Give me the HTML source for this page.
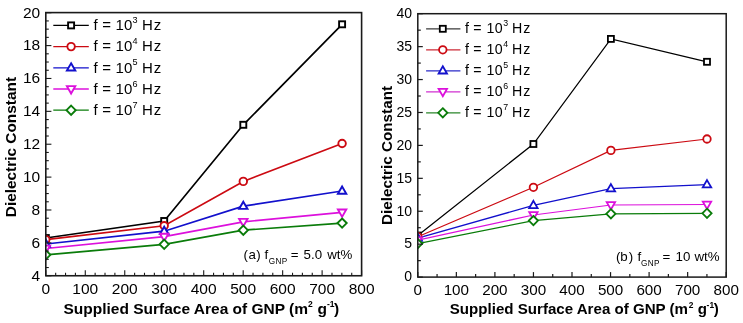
<!DOCTYPE html>
<html><head><meta charset="utf-8"><style>
html,body{margin:0;padding:0;background:#fff;}
svg{display:block;filter:blur(0.3px);}
text{font-family:"Liberation Sans",sans-serif;fill:#000;}
</style></head><body>
<svg width="743" height="323" viewBox="0 0 743 323">
<rect width="743" height="323" fill="#fff"/>
<clipPath id="cl"><rect x="45.8" y="12.6" width="315.8" height="263.15"/></clipPath>
<g clip-path="url(#cl)">
<polyline points="45.80,238.00 164.20,221.00 243.30,124.80 342.10,24.30" fill="none" stroke="#000000" stroke-width="1.7"/>
<polyline points="45.80,239.60 164.20,225.80 243.30,181.40 342.10,143.50" fill="none" stroke="#cc0a12" stroke-width="1.7"/>
<polyline points="45.80,244.00 164.20,231.20 243.30,206.20 342.10,191.00" fill="none" stroke="#1210cc" stroke-width="1.7"/>
<polyline points="45.80,248.50 164.20,236.60 243.30,221.80 342.10,212.40" fill="none" stroke="#dc10dc" stroke-width="1.7"/>
<polyline points="45.80,254.80 164.20,244.30 243.30,230.20 342.10,223.10" fill="none" stroke="#0a7c0a" stroke-width="1.7"/>
<rect x="42.80" y="235.00" width="6.00" height="6.00" fill="#fff" stroke="#000000" stroke-width="1.9"/>
<rect x="161.20" y="218.00" width="6.00" height="6.00" fill="#fff" stroke="#000000" stroke-width="1.9"/>
<rect x="240.30" y="121.80" width="6.00" height="6.00" fill="#fff" stroke="#000000" stroke-width="1.9"/>
<rect x="339.10" y="21.30" width="6.00" height="6.00" fill="#fff" stroke="#000000" stroke-width="1.9"/>
<circle cx="45.80" cy="239.60" r="3.75" fill="#fff" stroke="#cc0a12" stroke-width="1.9"/>
<circle cx="164.20" cy="225.80" r="3.75" fill="#fff" stroke="#cc0a12" stroke-width="1.9"/>
<circle cx="243.30" cy="181.40" r="3.75" fill="#fff" stroke="#cc0a12" stroke-width="1.9"/>
<circle cx="342.10" cy="143.50" r="3.75" fill="#fff" stroke="#cc0a12" stroke-width="1.9"/>
<path d="M45.80,239.50 L50.00,246.70 L41.60,246.70 Z" fill="#fff" stroke="#1210cc" stroke-width="1.9"/>
<path d="M164.20,226.70 L168.40,233.90 L160.00,233.90 Z" fill="#fff" stroke="#1210cc" stroke-width="1.9"/>
<path d="M243.30,201.70 L247.50,208.90 L239.10,208.90 Z" fill="#fff" stroke="#1210cc" stroke-width="1.9"/>
<path d="M342.10,186.50 L346.30,193.70 L337.90,193.70 Z" fill="#fff" stroke="#1210cc" stroke-width="1.9"/>
<path d="M45.80,253.00 L50.00,245.60 L41.60,245.60 Z" fill="#fff" stroke="#dc10dc" stroke-width="1.9"/>
<path d="M164.20,241.10 L168.40,233.70 L160.00,233.70 Z" fill="#fff" stroke="#dc10dc" stroke-width="1.9"/>
<path d="M243.30,226.30 L247.50,218.90 L239.10,218.90 Z" fill="#fff" stroke="#dc10dc" stroke-width="1.9"/>
<path d="M342.10,216.90 L346.30,209.50 L337.90,209.50 Z" fill="#fff" stroke="#dc10dc" stroke-width="1.9"/>
<path d="M45.80,250.20 L50.40,254.80 L45.80,259.40 L41.20,254.80 Z" fill="#fff" stroke="#0a7c0a" stroke-width="1.9"/>
<path d="M164.20,239.70 L168.80,244.30 L164.20,248.90 L159.60,244.30 Z" fill="#fff" stroke="#0a7c0a" stroke-width="1.9"/>
<path d="M243.30,225.60 L247.90,230.20 L243.30,234.80 L238.70,230.20 Z" fill="#fff" stroke="#0a7c0a" stroke-width="1.9"/>
<path d="M342.10,218.50 L346.70,223.10 L342.10,227.70 L337.50,223.10 Z" fill="#fff" stroke="#0a7c0a" stroke-width="1.9"/>
</g>
<line x1="53.3" y1="25.40" x2="88.8" y2="25.40" stroke="#000000" stroke-width="1.3"/>
<rect x="68.10" y="22.40" width="6.00" height="6.00" fill="#fff" stroke="#000000" stroke-width="1.9"/>
<text x="93.40" y="30.20" font-size="15">f</text>
<text x="102.20" y="30.20" font-size="15">=</text>
<text x="115.40" y="30.20" font-size="15" letter-spacing="0.3">10</text>
<text x="132.60" y="22.90" font-size="9.1">3</text>
<text x="142.00" y="30.20" font-size="15" letter-spacing="0.8">Hz</text>
<line x1="53.3" y1="46.60" x2="88.8" y2="46.60" stroke="#cc0a12" stroke-width="1.3"/>
<circle cx="71.10" cy="46.60" r="3.75" fill="#fff" stroke="#cc0a12" stroke-width="1.9"/>
<text x="93.40" y="51.40" font-size="15">f</text>
<text x="102.20" y="51.40" font-size="15">=</text>
<text x="115.40" y="51.40" font-size="15" letter-spacing="0.3">10</text>
<text x="132.60" y="44.10" font-size="9.1">4</text>
<text x="142.00" y="51.40" font-size="15" letter-spacing="0.8">Hz</text>
<line x1="53.3" y1="67.80" x2="88.8" y2="67.80" stroke="#1210cc" stroke-width="1.3"/>
<path d="M71.10,63.30 L75.30,70.50 L66.90,70.50 Z" fill="#fff" stroke="#1210cc" stroke-width="1.9"/>
<text x="93.40" y="72.60" font-size="15">f</text>
<text x="102.20" y="72.60" font-size="15">=</text>
<text x="115.40" y="72.60" font-size="15" letter-spacing="0.3">10</text>
<text x="132.60" y="65.30" font-size="9.1">5</text>
<text x="142.00" y="72.60" font-size="15" letter-spacing="0.8">Hz</text>
<line x1="53.3" y1="89.00" x2="88.8" y2="89.00" stroke="#dc10dc" stroke-width="1.3"/>
<path d="M71.10,93.50 L75.30,86.10 L66.90,86.10 Z" fill="#fff" stroke="#dc10dc" stroke-width="1.9"/>
<text x="93.40" y="93.80" font-size="15">f</text>
<text x="102.20" y="93.80" font-size="15">=</text>
<text x="115.40" y="93.80" font-size="15" letter-spacing="0.3">10</text>
<text x="132.60" y="86.50" font-size="9.1">6</text>
<text x="142.00" y="93.80" font-size="15" letter-spacing="0.8">Hz</text>
<line x1="53.3" y1="110.20" x2="88.8" y2="110.20" stroke="#0a7c0a" stroke-width="1.3"/>
<path d="M71.10,105.60 L75.70,110.20 L71.10,114.80 L66.50,110.20 Z" fill="#fff" stroke="#0a7c0a" stroke-width="1.9"/>
<text x="93.40" y="115.00" font-size="15">f</text>
<text x="102.20" y="115.00" font-size="15">=</text>
<text x="115.40" y="115.00" font-size="15" letter-spacing="0.3">10</text>
<text x="132.60" y="107.70" font-size="9.1">7</text>
<text x="142.00" y="115.00" font-size="15" letter-spacing="0.8">Hz</text>
<rect x="45.8" y="12.6" width="315.8" height="263.15" fill="none" stroke="#1a1a1a" stroke-width="1.6"/>
<line x1="45.80" y1="275.75" x2="45.80" y2="270.15" stroke="#1a1a1a" stroke-width="1.1"/>
<text x="45.80" y="293.60" font-size="15.5" text-anchor="middle">0</text>
<line x1="55.67" y1="275.75" x2="55.67" y2="272.75" stroke="#1a1a1a" stroke-width="1.1"/>
<line x1="65.54" y1="275.75" x2="65.54" y2="272.75" stroke="#1a1a1a" stroke-width="1.1"/>
<line x1="75.41" y1="275.75" x2="75.41" y2="272.75" stroke="#1a1a1a" stroke-width="1.1"/>
<line x1="85.28" y1="275.75" x2="85.28" y2="270.15" stroke="#1a1a1a" stroke-width="1.1"/>
<text x="85.28" y="293.60" font-size="15.5" text-anchor="middle">100</text>
<line x1="95.14" y1="275.75" x2="95.14" y2="272.75" stroke="#1a1a1a" stroke-width="1.1"/>
<line x1="105.01" y1="275.75" x2="105.01" y2="272.75" stroke="#1a1a1a" stroke-width="1.1"/>
<line x1="114.88" y1="275.75" x2="114.88" y2="272.75" stroke="#1a1a1a" stroke-width="1.1"/>
<line x1="124.75" y1="275.75" x2="124.75" y2="270.15" stroke="#1a1a1a" stroke-width="1.1"/>
<text x="124.75" y="293.60" font-size="15.5" text-anchor="middle">200</text>
<line x1="134.62" y1="275.75" x2="134.62" y2="272.75" stroke="#1a1a1a" stroke-width="1.1"/>
<line x1="144.49" y1="275.75" x2="144.49" y2="272.75" stroke="#1a1a1a" stroke-width="1.1"/>
<line x1="154.36" y1="275.75" x2="154.36" y2="272.75" stroke="#1a1a1a" stroke-width="1.1"/>
<line x1="164.22" y1="275.75" x2="164.22" y2="270.15" stroke="#1a1a1a" stroke-width="1.1"/>
<text x="164.22" y="293.60" font-size="15.5" text-anchor="middle">300</text>
<line x1="174.09" y1="275.75" x2="174.09" y2="272.75" stroke="#1a1a1a" stroke-width="1.1"/>
<line x1="183.96" y1="275.75" x2="183.96" y2="272.75" stroke="#1a1a1a" stroke-width="1.1"/>
<line x1="193.83" y1="275.75" x2="193.83" y2="272.75" stroke="#1a1a1a" stroke-width="1.1"/>
<line x1="203.70" y1="275.75" x2="203.70" y2="270.15" stroke="#1a1a1a" stroke-width="1.1"/>
<text x="203.70" y="293.60" font-size="15.5" text-anchor="middle">400</text>
<line x1="213.57" y1="275.75" x2="213.57" y2="272.75" stroke="#1a1a1a" stroke-width="1.1"/>
<line x1="223.44" y1="275.75" x2="223.44" y2="272.75" stroke="#1a1a1a" stroke-width="1.1"/>
<line x1="233.31" y1="275.75" x2="233.31" y2="272.75" stroke="#1a1a1a" stroke-width="1.1"/>
<line x1="243.18" y1="275.75" x2="243.18" y2="270.15" stroke="#1a1a1a" stroke-width="1.1"/>
<text x="243.18" y="293.60" font-size="15.5" text-anchor="middle">500</text>
<line x1="253.04" y1="275.75" x2="253.04" y2="272.75" stroke="#1a1a1a" stroke-width="1.1"/>
<line x1="262.91" y1="275.75" x2="262.91" y2="272.75" stroke="#1a1a1a" stroke-width="1.1"/>
<line x1="272.78" y1="275.75" x2="272.78" y2="272.75" stroke="#1a1a1a" stroke-width="1.1"/>
<line x1="282.65" y1="275.75" x2="282.65" y2="270.15" stroke="#1a1a1a" stroke-width="1.1"/>
<text x="282.65" y="293.60" font-size="15.5" text-anchor="middle">600</text>
<line x1="292.52" y1="275.75" x2="292.52" y2="272.75" stroke="#1a1a1a" stroke-width="1.1"/>
<line x1="302.39" y1="275.75" x2="302.39" y2="272.75" stroke="#1a1a1a" stroke-width="1.1"/>
<line x1="312.26" y1="275.75" x2="312.26" y2="272.75" stroke="#1a1a1a" stroke-width="1.1"/>
<line x1="322.12" y1="275.75" x2="322.12" y2="270.15" stroke="#1a1a1a" stroke-width="1.1"/>
<text x="322.12" y="293.60" font-size="15.5" text-anchor="middle">700</text>
<line x1="331.99" y1="275.75" x2="331.99" y2="272.75" stroke="#1a1a1a" stroke-width="1.1"/>
<line x1="341.86" y1="275.75" x2="341.86" y2="272.75" stroke="#1a1a1a" stroke-width="1.1"/>
<line x1="351.73" y1="275.75" x2="351.73" y2="272.75" stroke="#1a1a1a" stroke-width="1.1"/>
<line x1="361.60" y1="275.75" x2="361.60" y2="270.15" stroke="#1a1a1a" stroke-width="1.1"/>
<text x="361.60" y="293.60" font-size="15.5" text-anchor="middle">800</text>
<line x1="45.8" y1="275.75" x2="51.4" y2="275.75" stroke="#1a1a1a" stroke-width="1.1"/>
<text x="40.20" y="280.55" font-size="15.5" text-anchor="end">4</text>
<line x1="45.8" y1="267.53" x2="48.8" y2="267.53" stroke="#1a1a1a" stroke-width="1.1"/>
<line x1="45.8" y1="259.31" x2="48.8" y2="259.31" stroke="#1a1a1a" stroke-width="1.1"/>
<line x1="45.8" y1="251.09" x2="48.8" y2="251.09" stroke="#1a1a1a" stroke-width="1.1"/>
<line x1="45.8" y1="242.87" x2="51.4" y2="242.87" stroke="#1a1a1a" stroke-width="1.1"/>
<text x="40.20" y="247.67" font-size="15.5" text-anchor="end">6</text>
<line x1="45.8" y1="234.65" x2="48.8" y2="234.65" stroke="#1a1a1a" stroke-width="1.1"/>
<line x1="45.8" y1="226.43" x2="48.8" y2="226.43" stroke="#1a1a1a" stroke-width="1.1"/>
<line x1="45.8" y1="218.21" x2="48.8" y2="218.21" stroke="#1a1a1a" stroke-width="1.1"/>
<line x1="45.8" y1="209.99" x2="51.4" y2="209.99" stroke="#1a1a1a" stroke-width="1.1"/>
<text x="40.20" y="214.79" font-size="15.5" text-anchor="end">8</text>
<line x1="45.8" y1="201.77" x2="48.8" y2="201.77" stroke="#1a1a1a" stroke-width="1.1"/>
<line x1="45.8" y1="193.55" x2="48.8" y2="193.55" stroke="#1a1a1a" stroke-width="1.1"/>
<line x1="45.8" y1="185.33" x2="48.8" y2="185.33" stroke="#1a1a1a" stroke-width="1.1"/>
<line x1="45.8" y1="177.11" x2="51.4" y2="177.11" stroke="#1a1a1a" stroke-width="1.1"/>
<text x="40.20" y="181.91" font-size="15.5" text-anchor="end">10</text>
<line x1="45.8" y1="168.89" x2="48.8" y2="168.89" stroke="#1a1a1a" stroke-width="1.1"/>
<line x1="45.8" y1="160.67" x2="48.8" y2="160.67" stroke="#1a1a1a" stroke-width="1.1"/>
<line x1="45.8" y1="152.45" x2="48.8" y2="152.45" stroke="#1a1a1a" stroke-width="1.1"/>
<line x1="45.8" y1="144.23" x2="51.4" y2="144.23" stroke="#1a1a1a" stroke-width="1.1"/>
<text x="40.20" y="149.03" font-size="15.5" text-anchor="end">12</text>
<line x1="45.8" y1="136.01" x2="48.8" y2="136.01" stroke="#1a1a1a" stroke-width="1.1"/>
<line x1="45.8" y1="127.79" x2="48.8" y2="127.79" stroke="#1a1a1a" stroke-width="1.1"/>
<line x1="45.8" y1="119.57" x2="48.8" y2="119.57" stroke="#1a1a1a" stroke-width="1.1"/>
<line x1="45.8" y1="111.35" x2="51.4" y2="111.35" stroke="#1a1a1a" stroke-width="1.1"/>
<text x="40.20" y="116.15" font-size="15.5" text-anchor="end">14</text>
<line x1="45.8" y1="103.13" x2="48.8" y2="103.13" stroke="#1a1a1a" stroke-width="1.1"/>
<line x1="45.8" y1="94.91" x2="48.8" y2="94.91" stroke="#1a1a1a" stroke-width="1.1"/>
<line x1="45.8" y1="86.69" x2="48.8" y2="86.69" stroke="#1a1a1a" stroke-width="1.1"/>
<line x1="45.8" y1="78.47" x2="51.4" y2="78.47" stroke="#1a1a1a" stroke-width="1.1"/>
<text x="40.20" y="83.27" font-size="15.5" text-anchor="end">16</text>
<line x1="45.8" y1="70.25" x2="48.8" y2="70.25" stroke="#1a1a1a" stroke-width="1.1"/>
<line x1="45.8" y1="62.03" x2="48.8" y2="62.03" stroke="#1a1a1a" stroke-width="1.1"/>
<line x1="45.8" y1="53.81" x2="48.8" y2="53.81" stroke="#1a1a1a" stroke-width="1.1"/>
<line x1="45.8" y1="45.59" x2="51.4" y2="45.59" stroke="#1a1a1a" stroke-width="1.1"/>
<text x="40.20" y="50.39" font-size="15.5" text-anchor="end">18</text>
<line x1="45.8" y1="37.37" x2="48.8" y2="37.37" stroke="#1a1a1a" stroke-width="1.1"/>
<line x1="45.8" y1="29.15" x2="48.8" y2="29.15" stroke="#1a1a1a" stroke-width="1.1"/>
<line x1="45.8" y1="20.93" x2="48.8" y2="20.93" stroke="#1a1a1a" stroke-width="1.1"/>
<line x1="45.8" y1="12.71" x2="51.4" y2="12.71" stroke="#1a1a1a" stroke-width="1.1"/>
<text x="40.20" y="17.51" font-size="15.5" text-anchor="end">20</text>
<text x="63.45" y="313.80" font-size="15.5" font-weight="bold">Supplied Surface Area of GNP (m</text>
<text x="308.00" y="307.20" font-size="8.5" font-weight="bold">2</text>
<text x="317.40" y="313.80" font-size="15.5" font-weight="bold">g</text>
<text x="327.00" y="307.20" font-size="8.5" font-weight="bold">-1</text>
<text x="334.00" y="313.80" font-size="15.5" font-weight="bold">)</text>
<text transform="translate(16.0,147.1) rotate(-90)" font-size="15.4" font-weight="bold" text-anchor="middle">Dielectric Constant</text>
<text x="243.50" y="258.90" font-size="13.3">(</text>
<text x="248.40" y="258.90" font-size="13.3">a</text>
<text x="256.20" y="258.90" font-size="13.3">)</text>
<text x="264.50" y="258.90" font-size="13.3">f</text>
<text x="268.70" y="264.30" font-size="8.2" letter-spacing="0.35">GNP</text>
<text x="290.70" y="258.90" font-size="13.3">=</text>
<text x="303.60" y="258.90" font-size="13.3">5.0</text>
<text x="327.20" y="258.90" font-size="13.3">wt%</text>
<clipPath id="cr"><rect x="417.8" y="13.7" width="308.40000000000003" height="263.40000000000003"/></clipPath>
<g clip-path="url(#cr)">
<polyline points="417.80,235.50 533.40,144.00 610.90,38.90 707.00,61.80" fill="none" stroke="#000000" stroke-width="1.25"/>
<polyline points="417.80,236.70 533.40,187.30 610.90,150.40 707.00,139.00" fill="none" stroke="#cc0a12" stroke-width="1.25"/>
<polyline points="417.80,238.20 533.40,205.40 610.90,188.60 707.00,184.60" fill="none" stroke="#1210cc" stroke-width="1.25"/>
<polyline points="417.80,240.20 533.40,215.00 610.90,205.00 707.00,204.50" fill="none" stroke="#dc10dc" stroke-width="1.25"/>
<polyline points="417.80,243.60 533.40,220.60 610.90,213.80 707.00,213.30" fill="none" stroke="#0a7c0a" stroke-width="1.25"/>
<rect x="414.80" y="232.50" width="6.00" height="6.00" fill="#fff" stroke="#000000" stroke-width="1.8"/>
<rect x="530.40" y="141.00" width="6.00" height="6.00" fill="#fff" stroke="#000000" stroke-width="1.8"/>
<rect x="607.90" y="35.90" width="6.00" height="6.00" fill="#fff" stroke="#000000" stroke-width="1.8"/>
<rect x="704.00" y="58.80" width="6.00" height="6.00" fill="#fff" stroke="#000000" stroke-width="1.8"/>
<circle cx="417.80" cy="236.70" r="3.75" fill="#fff" stroke="#cc0a12" stroke-width="1.8"/>
<circle cx="533.40" cy="187.30" r="3.75" fill="#fff" stroke="#cc0a12" stroke-width="1.8"/>
<circle cx="610.90" cy="150.40" r="3.75" fill="#fff" stroke="#cc0a12" stroke-width="1.8"/>
<circle cx="707.00" cy="139.00" r="3.75" fill="#fff" stroke="#cc0a12" stroke-width="1.8"/>
<path d="M417.80,233.70 L422.00,240.90 L413.60,240.90 Z" fill="#fff" stroke="#1210cc" stroke-width="1.8"/>
<path d="M533.40,200.90 L537.60,208.10 L529.20,208.10 Z" fill="#fff" stroke="#1210cc" stroke-width="1.8"/>
<path d="M610.90,184.10 L615.10,191.30 L606.70,191.30 Z" fill="#fff" stroke="#1210cc" stroke-width="1.8"/>
<path d="M707.00,180.10 L711.20,187.30 L702.80,187.30 Z" fill="#fff" stroke="#1210cc" stroke-width="1.8"/>
<path d="M417.80,244.70 L422.00,237.30 L413.60,237.30 Z" fill="#fff" stroke="#dc10dc" stroke-width="1.8"/>
<path d="M533.40,219.50 L537.60,212.10 L529.20,212.10 Z" fill="#fff" stroke="#dc10dc" stroke-width="1.8"/>
<path d="M610.90,209.50 L615.10,202.10 L606.70,202.10 Z" fill="#fff" stroke="#dc10dc" stroke-width="1.8"/>
<path d="M707.00,209.00 L711.20,201.60 L702.80,201.60 Z" fill="#fff" stroke="#dc10dc" stroke-width="1.8"/>
<path d="M417.80,239.00 L422.40,243.60 L417.80,248.20 L413.20,243.60 Z" fill="#fff" stroke="#0a7c0a" stroke-width="1.8"/>
<path d="M533.40,216.00 L538.00,220.60 L533.40,225.20 L528.80,220.60 Z" fill="#fff" stroke="#0a7c0a" stroke-width="1.8"/>
<path d="M610.90,209.20 L615.50,213.80 L610.90,218.40 L606.30,213.80 Z" fill="#fff" stroke="#0a7c0a" stroke-width="1.8"/>
<path d="M707.00,208.70 L711.60,213.30 L707.00,217.90 L702.40,213.30 Z" fill="#fff" stroke="#0a7c0a" stroke-width="1.8"/>
</g>
<line x1="426.1" y1="28.80" x2="460.4" y2="28.80" stroke="#3a3a3a" stroke-width="1.2"/>
<rect x="439.80" y="25.80" width="6.00" height="6.00" fill="#fff" stroke="#000000" stroke-width="1.8"/>
<text x="465.10" y="33.40" font-size="14.2">f</text>
<text x="473.30" y="33.40" font-size="14.2">=</text>
<text x="486.60" y="33.40" font-size="14.2" letter-spacing="0.3">10</text>
<text x="503.30" y="26.30" font-size="8.8">3</text>
<text x="512.00" y="33.40" font-size="14.2" letter-spacing="1.0">Hz</text>
<line x1="426.1" y1="49.80" x2="460.4" y2="49.80" stroke="#cc2a36" stroke-width="1.2"/>
<circle cx="442.80" cy="49.80" r="3.75" fill="#fff" stroke="#cc0a12" stroke-width="1.8"/>
<text x="465.10" y="54.40" font-size="14.2">f</text>
<text x="473.30" y="54.40" font-size="14.2">=</text>
<text x="486.60" y="54.40" font-size="14.2" letter-spacing="0.3">10</text>
<text x="503.30" y="47.30" font-size="8.8">4</text>
<text x="512.00" y="54.40" font-size="14.2" letter-spacing="1.0">Hz</text>
<line x1="426.1" y1="70.80" x2="460.4" y2="70.80" stroke="#2a2ac8" stroke-width="1.2"/>
<path d="M442.80,66.30 L447.00,73.50 L438.60,73.50 Z" fill="#fff" stroke="#1210cc" stroke-width="1.8"/>
<text x="465.10" y="75.40" font-size="14.2">f</text>
<text x="473.30" y="75.40" font-size="14.2">=</text>
<text x="486.60" y="75.40" font-size="14.2" letter-spacing="0.3">10</text>
<text x="503.30" y="68.30" font-size="8.8">5</text>
<text x="512.00" y="75.40" font-size="14.2" letter-spacing="1.0">Hz</text>
<line x1="426.1" y1="91.80" x2="460.4" y2="91.80" stroke="#d030d0" stroke-width="1.2"/>
<path d="M442.80,96.30 L447.00,88.90 L438.60,88.90 Z" fill="#fff" stroke="#dc10dc" stroke-width="1.8"/>
<text x="465.10" y="96.40" font-size="14.2">f</text>
<text x="473.30" y="96.40" font-size="14.2">=</text>
<text x="486.60" y="96.40" font-size="14.2" letter-spacing="0.3">10</text>
<text x="503.30" y="89.30" font-size="8.8">6</text>
<text x="512.00" y="96.40" font-size="14.2" letter-spacing="1.0">Hz</text>
<line x1="426.1" y1="112.80" x2="460.4" y2="112.80" stroke="#2a862a" stroke-width="1.2"/>
<path d="M442.80,108.20 L447.40,112.80 L442.80,117.40 L438.20,112.80 Z" fill="#fff" stroke="#0a7c0a" stroke-width="1.8"/>
<text x="465.10" y="117.40" font-size="14.2">f</text>
<text x="473.30" y="117.40" font-size="14.2">=</text>
<text x="486.60" y="117.40" font-size="14.2" letter-spacing="0.3">10</text>
<text x="503.30" y="110.30" font-size="8.8">7</text>
<text x="512.00" y="117.40" font-size="14.2" letter-spacing="1.0">Hz</text>
<rect x="417.8" y="13.7" width="308.40000000000003" height="263.40000000000003" fill="none" stroke="#1a1a1a" stroke-width="1.5"/>
<line x1="417.80" y1="277.1" x2="417.80" y2="272.1" stroke="#1a1a1a" stroke-width="1.2"/>
<text x="417.80" y="294.90" font-size="15.2" text-anchor="middle">0</text>
<line x1="437.07" y1="277.1" x2="437.07" y2="274.1" stroke="#1a1a1a" stroke-width="1.2"/>
<line x1="456.35" y1="277.1" x2="456.35" y2="272.1" stroke="#1a1a1a" stroke-width="1.2"/>
<text x="456.35" y="294.90" font-size="15.2" text-anchor="middle">100</text>
<line x1="475.62" y1="277.1" x2="475.62" y2="274.1" stroke="#1a1a1a" stroke-width="1.2"/>
<line x1="494.90" y1="277.1" x2="494.90" y2="272.1" stroke="#1a1a1a" stroke-width="1.2"/>
<text x="494.90" y="294.90" font-size="15.2" text-anchor="middle">200</text>
<line x1="514.18" y1="277.1" x2="514.18" y2="274.1" stroke="#1a1a1a" stroke-width="1.2"/>
<line x1="533.45" y1="277.1" x2="533.45" y2="272.1" stroke="#1a1a1a" stroke-width="1.2"/>
<text x="533.45" y="294.90" font-size="15.2" text-anchor="middle">300</text>
<line x1="552.73" y1="277.1" x2="552.73" y2="274.1" stroke="#1a1a1a" stroke-width="1.2"/>
<line x1="572.00" y1="277.1" x2="572.00" y2="272.1" stroke="#1a1a1a" stroke-width="1.2"/>
<text x="572.00" y="294.90" font-size="15.2" text-anchor="middle">400</text>
<line x1="591.28" y1="277.1" x2="591.28" y2="274.1" stroke="#1a1a1a" stroke-width="1.2"/>
<line x1="610.55" y1="277.1" x2="610.55" y2="272.1" stroke="#1a1a1a" stroke-width="1.2"/>
<text x="610.55" y="294.90" font-size="15.2" text-anchor="middle">500</text>
<line x1="629.83" y1="277.1" x2="629.83" y2="274.1" stroke="#1a1a1a" stroke-width="1.2"/>
<line x1="649.10" y1="277.1" x2="649.10" y2="272.1" stroke="#1a1a1a" stroke-width="1.2"/>
<text x="649.10" y="294.90" font-size="15.2" text-anchor="middle">600</text>
<line x1="668.38" y1="277.1" x2="668.38" y2="274.1" stroke="#1a1a1a" stroke-width="1.2"/>
<line x1="687.65" y1="277.1" x2="687.65" y2="272.1" stroke="#1a1a1a" stroke-width="1.2"/>
<text x="687.65" y="294.90" font-size="15.2" text-anchor="middle">700</text>
<line x1="706.93" y1="277.1" x2="706.93" y2="274.1" stroke="#1a1a1a" stroke-width="1.2"/>
<line x1="726.20" y1="277.1" x2="726.20" y2="272.1" stroke="#1a1a1a" stroke-width="1.2"/>
<text x="726.20" y="294.90" font-size="15.2" text-anchor="middle">800</text>
<line x1="417.8" y1="277.10" x2="422.8" y2="277.10" stroke="#1a1a1a" stroke-width="1.2"/>
<text x="412.10" y="281.40" font-size="14" text-anchor="end">0</text>
<line x1="417.8" y1="260.64" x2="420.8" y2="260.64" stroke="#1a1a1a" stroke-width="1.2"/>
<line x1="417.8" y1="244.18" x2="422.8" y2="244.18" stroke="#1a1a1a" stroke-width="1.2"/>
<text x="412.10" y="248.48" font-size="14" text-anchor="end">5</text>
<line x1="417.8" y1="227.71" x2="420.8" y2="227.71" stroke="#1a1a1a" stroke-width="1.2"/>
<line x1="417.8" y1="211.25" x2="422.8" y2="211.25" stroke="#1a1a1a" stroke-width="1.2"/>
<text x="412.10" y="215.55" font-size="14" text-anchor="end">10</text>
<line x1="417.8" y1="194.79" x2="420.8" y2="194.79" stroke="#1a1a1a" stroke-width="1.2"/>
<line x1="417.8" y1="178.33" x2="422.8" y2="178.33" stroke="#1a1a1a" stroke-width="1.2"/>
<text x="412.10" y="182.63" font-size="14" text-anchor="end">15</text>
<line x1="417.8" y1="161.86" x2="420.8" y2="161.86" stroke="#1a1a1a" stroke-width="1.2"/>
<line x1="417.8" y1="145.40" x2="422.8" y2="145.40" stroke="#1a1a1a" stroke-width="1.2"/>
<text x="412.10" y="149.70" font-size="14" text-anchor="end">20</text>
<line x1="417.8" y1="128.94" x2="420.8" y2="128.94" stroke="#1a1a1a" stroke-width="1.2"/>
<line x1="417.8" y1="112.48" x2="422.8" y2="112.48" stroke="#1a1a1a" stroke-width="1.2"/>
<text x="412.10" y="116.78" font-size="14" text-anchor="end">25</text>
<line x1="417.8" y1="96.01" x2="420.8" y2="96.01" stroke="#1a1a1a" stroke-width="1.2"/>
<line x1="417.8" y1="79.55" x2="422.8" y2="79.55" stroke="#1a1a1a" stroke-width="1.2"/>
<text x="412.10" y="83.85" font-size="14" text-anchor="end">30</text>
<line x1="417.8" y1="63.09" x2="420.8" y2="63.09" stroke="#1a1a1a" stroke-width="1.2"/>
<line x1="417.8" y1="46.63" x2="422.8" y2="46.63" stroke="#1a1a1a" stroke-width="1.2"/>
<text x="412.10" y="50.93" font-size="14" text-anchor="end">35</text>
<line x1="417.8" y1="30.16" x2="420.8" y2="30.16" stroke="#1a1a1a" stroke-width="1.2"/>
<line x1="417.8" y1="13.70" x2="422.8" y2="13.70" stroke="#1a1a1a" stroke-width="1.2"/>
<text x="412.10" y="18.00" font-size="14" text-anchor="end">40</text>
<text x="449.80" y="314.20" font-size="15.1" font-weight="bold">Supplied Surface Area of GNP (m</text>
<text x="688.80" y="307.90" font-size="8.4" font-weight="bold">2</text>
<text x="697.80" y="314.20" font-size="15.1" font-weight="bold">g</text>
<text x="706.60" y="307.90" font-size="8.4" font-weight="bold">-1</text>
<text x="713.70" y="314.20" font-size="15.1" font-weight="bold">)</text>
<text transform="translate(391.7,155.45) rotate(-90)" font-size="15.25" font-weight="bold" text-anchor="middle">Dielectric Constant</text>
<text x="616.00" y="261.30" font-size="13.3">(</text>
<text x="620.20" y="261.30" font-size="13.3">b</text>
<text x="628.80" y="261.30" font-size="13.3">)</text>
<text x="637.60" y="261.30" font-size="13.3">f</text>
<text x="641.10" y="265.70" font-size="8.2" letter-spacing="0.35">GNP</text>
<text x="662.60" y="261.30" font-size="13.3">=</text>
<text x="675.50" y="261.30" font-size="13.3">10</text>
<text x="694.40" y="261.30" font-size="13.3">wt%</text>
</svg>
</body></html>
